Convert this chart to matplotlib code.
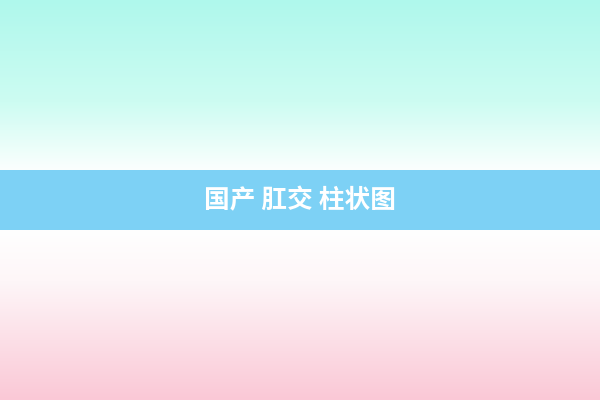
import numpy as np
import matplotlib
matplotlib.use("Agg")
import matplotlib.pyplot as plt
from matplotlib.colors import LinearSegmentedColormap

plt.rcParams['font.family'] = ['Noto Sans CJK SC', 'DejaVu Sans']

# banner pieces
title = "国产 肛交 柱状图"
top_colors = [(0.0, "#aff8ec"), (0.6, "#cdfcf2"), (1.0, "#fbfffe")]
band_color = "#7dd1f5"
bottom_colors = [(0.0, "#ffffff"), (0.3, "#fef6f8"), (1.0, "#fac8d6")]

fig = plt.figure(figsize=(6, 4), dpi=100)
ax = fig.add_axes([0, 0, 1, 1])
ax.set_xlim(0, 600)
ax.set_ylim(400, 0)
ax.axis('off')

grad = np.linspace(0, 1, 256).reshape(-1, 1)

top_cmap = LinearSegmentedColormap.from_list("top", top_colors)
ax.imshow(grad, cmap=top_cmap, aspect='auto', extent=[0, 600, 170, 0])

bot_cmap = LinearSegmentedColormap.from_list("bot", bottom_colors)
ax.imshow(grad, cmap=bot_cmap, aspect='auto', extent=[0, 600, 400, 230])

ax.axhspan(170, 230, color=band_color, lw=0)

ax.text(300, 201, title, color='white', fontsize=18.5, fontweight='bold',
        ha='center', va='center')

ax.set_xlim(0, 600)
ax.set_ylim(400, 0)
fig.savefig("out.png", dpi=100)
